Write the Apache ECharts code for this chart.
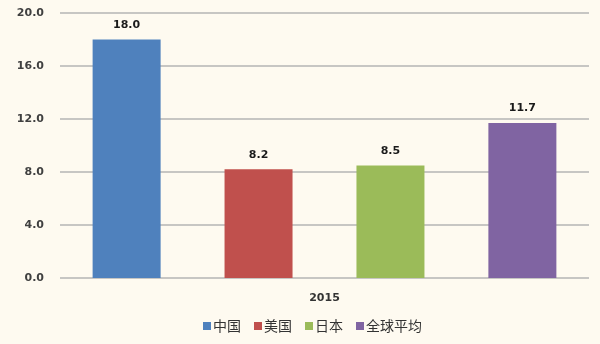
<!DOCTYPE html>
<html><head><meta charset="utf-8">
<script src="https://cdn.jsdelivr.net/npm/echarts@6/dist/echarts.min.js"></script>
<style>html,body{margin:0;padding:0;background:#fefaf0}#c{width:600px;height:344px}</style>
</head><body><div id="c"></div>
<script>
const categories = ['2015'];
const seriesNames = ['中国', '美国', '日本', '全球平均'];
const seriesValues = [[18.0], [8.2], [8.5], [11.7]];
const colors = ['#4f81bd', '#c0504d', '#9bbb59', '#8064a2'];
const yTicks = {min: 0, max: 20, interval: 4};

const chart = echarts.init(document.getElementById('c'));
chart.setOption({
  backgroundColor: '#fefaf0',
  animation: false,
  grid: {left: 60, right: 11, top: 13, bottom: 66},
  legend: {
    bottom: 6, left: 198,
    itemWidth: 8, itemHeight: 8, itemGap: 13,
    icon: 'rect',
    textStyle: {fontFamily: 'Noto Sans CJK SC', fontSize: 14, color: '#333', padding: [0, 0, 0, -3]},
    data: seriesNames
  },
  xAxis: {
    type: 'category', data: categories,
    axisLine: {show: false}, axisTick: {show: false},
    axisLabel: {margin: 15, fontFamily: 'DejaVu Sans', fontSize: 11, fontWeight: 'bold', color: '#333'}
  },
  yAxis: {
    type: 'value', min: yTicks.min, max: yTicks.max, interval: yTicks.interval,
    axisLine: {show: false}, axisTick: {show: false},
    splitLine: {lineStyle: {color: '#b4b4b4', width: 1.5}},
    axisLabel: {margin: 16, fontFamily: 'DejaVu Sans', fontSize: 11, fontWeight: 'bold', color: '#404040',
      formatter: v => v.toFixed(1)}
  },
  series: seriesNames.map((n, i) => ({
    name: n, type: 'bar', data: seriesValues[i],
    barWidth: 68, barGap: '94%',
    itemStyle: {color: colors[i]},
    label: {show: true, position: 'top', distance: 9, formatter: p => p.value.toFixed(1),
      fontFamily: 'DejaVu Sans', fontSize: 11, fontWeight: 'bold', color: '#1a1a1a'}
  }))
});
</script></body></html>
